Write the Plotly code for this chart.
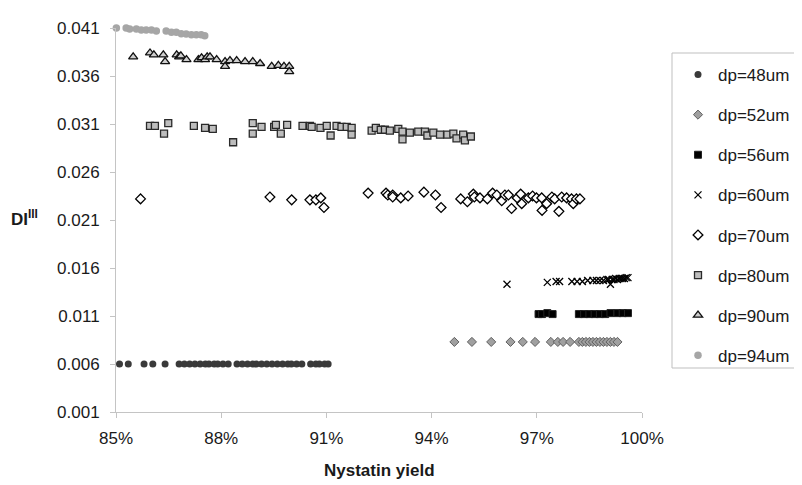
import plotly.graph_objects as go

# ---------------- data ----------------
dp48_x = [85.1, 85.35, 85.8, 86.05, 86.4, 86.8, 86.95, 87.1, 87.25, 87.4, 87.55, 87.65, 87.8, 87.9,
          88.05, 88.2, 88.45, 88.6, 88.75, 88.9, 89.0, 89.15, 89.3, 89.45, 89.6, 89.75, 89.9, 90.0,
          90.15, 90.3, 90.55, 90.7, 90.8, 90.95, 91.05]
dp48_y = [0.006, 0.006, 0.006, 0.006, 0.006, 0.006, 0.006, 0.006, 0.006, 0.006, 0.006, 0.006, 0.006, 0.006,
          0.006, 0.006, 0.006, 0.006, 0.006, 0.006, 0.006, 0.006, 0.006, 0.006, 0.006, 0.006, 0.006, 0.006,
          0.006, 0.006, 0.006, 0.006, 0.006, 0.006, 0.006]

dp52_x = [94.65, 95.15, 95.7, 96.25, 96.6, 96.95, 97.4, 97.6, 97.75, 97.95, 98.2, 98.3, 98.4, 98.5,
          98.6, 98.7, 98.8, 98.9, 99.0, 99.1, 99.2, 99.3]
dp52_y = [0.0083, 0.0083, 0.0083, 0.0083, 0.0083, 0.0083, 0.0083, 0.0083, 0.0083, 0.0083, 0.0083, 0.0083,
          0.0083, 0.0083, 0.0083, 0.0083, 0.0083, 0.0083, 0.0083, 0.0083, 0.0083, 0.0083]

dp56_x = [97.05, 97.15, 97.3, 97.45, 98.2, 98.35, 98.5, 98.65, 98.8, 98.95, 99.1, 99.3, 99.45, 99.6]
dp56_y = [0.0112, 0.0112, 0.0113, 0.0112, 0.0112, 0.0112, 0.0112, 0.0112, 0.0112, 0.0112, 0.0113,
          0.0113, 0.0113, 0.0113]

dp60_x = [96.15, 97.3, 97.55, 97.65, 98.0, 98.15, 98.3, 98.45, 98.6, 98.7, 98.8, 98.9, 99.0, 99.05,
          99.1, 99.15, 99.2, 99.25, 99.3, 99.35, 99.4, 99.45, 99.5, 99.55, 99.6]
dp60_y = [0.0143, 0.0145, 0.0146, 0.0146, 0.0146, 0.0146, 0.0146, 0.0147, 0.0147, 0.0147, 0.0147,
          0.0147, 0.0148, 0.0148, 0.0143, 0.0148, 0.0148, 0.0149, 0.0148, 0.0149, 0.0149, 0.0149,
          0.0149, 0.0150, 0.0150]

dp70_x = [85.7, 89.39, 90.01, 90.53, 90.7, 90.84, 90.93,
          92.19, 92.7, 92.75, 92.89, 92.89, 93.12, 93.33, 93.78, 94.11, 94.27, 94.83, 95.02, 95.19,
          95.22, 95.38, 95.59, 95.74, 95.86, 96.0, 96.09, 96.19, 96.28, 96.44, 96.54, 96.57, 96.76,
          96.88, 96.99, 97.14, 97.15, 97.28, 97.43, 97.51, 97.63, 97.71, 97.85, 97.99, 98.04, 98.13,
          98.23]
dp70_y = [0.0232, 0.0234, 0.0231, 0.0231, 0.0231, 0.0233, 0.0223,
          0.0238, 0.0238, 0.0236, 0.0236, 0.0234, 0.0233, 0.0235, 0.0239, 0.0236, 0.0223, 0.0232,
          0.0229, 0.0237, 0.0234, 0.0233, 0.0232, 0.0238, 0.0236, 0.0230, 0.0236, 0.0236, 0.0222,
          0.0233, 0.0237, 0.0227, 0.0233, 0.0235, 0.0233, 0.0233, 0.0220, 0.0227, 0.0234, 0.0232,
          0.0219, 0.0234, 0.0233, 0.0232, 0.0227, 0.0232, 0.0232]

dp80_x = [85.97, 86.11, 86.37, 86.49, 87.22, 87.54, 87.76, 88.34, 88.9, 88.9, 89.15, 89.51, 89.56,
          89.7, 89.88, 90.32, 90.53, 90.58, 90.83, 91.01, 91.12, 91.29, 91.43, 91.58, 91.72, 91.72,
          92.29, 92.41, 92.55, 92.67, 92.81, 93.05, 93.17, 93.17, 93.38, 93.62, 93.81, 93.88, 94.05,
          94.24, 94.45, 94.62, 94.71, 94.9, 94.95, 95.12]
dp80_y = [0.0308, 0.0308, 0.0300, 0.0311, 0.0308, 0.0306, 0.0305, 0.0291, 0.0311, 0.0300, 0.0307,
          0.0307, 0.0309, 0.0300, 0.0309, 0.0308, 0.0308, 0.0307, 0.0306, 0.0308, 0.0298, 0.0308,
          0.0307, 0.0307, 0.0306, 0.0299, 0.0303, 0.0306, 0.0304, 0.0304, 0.0303, 0.0305, 0.0302,
          0.0294, 0.0301, 0.0302, 0.0302, 0.0298, 0.0301, 0.0299, 0.0299, 0.0300, 0.0295, 0.0299,
          0.0293, 0.0297]

dp90_x = [85.49, 85.97, 86.08, 86.35, 86.4, 86.73, 86.8, 86.85, 87.01, 87.35, 87.44, 87.54, 87.6,
          87.68, 87.87, 88.11, 88.11, 88.25, 88.44, 88.68, 88.9, 89.11, 89.44, 89.63, 89.79, 89.94,
          89.94]
dp90_y = [0.0380, 0.0384, 0.0382, 0.0382, 0.0375, 0.0382, 0.0380, 0.0381, 0.0377, 0.0377, 0.0379,
          0.0377, 0.0380, 0.0380, 0.0377, 0.0375, 0.0370, 0.0376, 0.0376, 0.0375, 0.0375, 0.0373,
          0.0370, 0.0371, 0.0370, 0.0370, 0.03645]

dp94_x = [85.01, 85.15, 85.29, 85.39, 85.58, 85.72, 85.86, 86.01, 86.15, 86.43, 86.58, 86.72,
          86.86, 87.0, 87.15, 87.29, 87.43, 87.53]
dp94_y = [0.0410, 0.0411, 0.0410, 0.0409, 0.0409, 0.0408, 0.0408, 0.0408, 0.0407, 0.0407, 0.04055,
          0.04055, 0.0404, 0.04037, 0.0403, 0.0403, 0.0403, 0.0402]

x_ticks = [85, 88, 91, 94, 97, 100]
x_tick_labels = ["85%", "88%", "91%", "94%", "97%", "100%"]
y_ticks = [0.001, 0.006, 0.011, 0.016, 0.021, 0.026, 0.031, 0.036, 0.041]
y_tick_labels = ["0.001", "0.006", "0.011", "0.016", "0.021", "0.026", "0.031", "0.036", "0.041"]

# ---------------- figure ----------------
FONT = "Liberation Sans, Arial, sans-serif"
TXT = "#1a1a1a"
AX = "#c4c4c4"

series = [
    ("dp=48um", dp48_x, dp48_y, dict(symbol="circle", size=7, color="#3a3a3a", line=dict(width=0))),
    ("dp=52um", dp52_x, dp52_y, dict(symbol="diamond", size=7, color="#a0a0a0", line=dict(width=1, color="#606060"))),
    ("dp=56um", dp56_x, dp56_y, dict(symbol="square", size=7, color="#000000", line=dict(width=1, color="#222222"))),
    ("dp=60um", dp60_x, dp60_y, dict(symbol="x-thin", size=7, color="#000000", line=dict(width=1.3, color="#000000"))),
    ("dp=70um", dp70_x, dp70_y, dict(symbol="diamond", size=7.5, color="#ffffff", line=dict(width=1.3, color="#000000"))),
    ("dp=80um", dp80_x, dp80_y, dict(symbol="square", size=7, color="#bdbdbd", line=dict(width=1.3, color="#2a2a2a"))),
    ("dp=90um", dp90_x, dp90_y, dict(symbol="triangle-up", size=8, color="#cfcfcf", line=dict(width=1.3, color="#111111"))),
    ("dp=94um", dp94_x, dp94_y, dict(symbol="circle", size=7.5, color="#a6a6a6", line=dict(width=0))),
]

fig = go.Figure()
for i, (name, xs, ys, mk) in enumerate(series):
    fig.add_trace(go.Scatter(x=xs, y=ys, mode="markers", name=name, marker=mk,
                             cliponaxis=False, legendgroup=f"g{i}"))

# the page body has an 8px margin: work in page pixels, then offset
OFF = 8
W, H = 802 - OFF, 485 - OFF
L, R, T, B = 116 - OFF, 642 - OFF, 28 - OFF, 412 - OFF
PW, PH = R - L, B - T


def px(x):
    return (x - OFF - L) / PW


def py(y):
    return (B - (y - OFF)) / PH


fig.update_layout(
    width=W, height=H,
    margin=dict(l=L, r=W - R, t=T, b=H - B, pad=0, autoexpand=False),
    paper_bgcolor="white", plot_bgcolor="white",
    font=dict(family=FONT, size=17, color=TXT),
    showlegend=True,
    legend=dict(
        x=px(678), y=py(57), xanchor="left", yanchor="top",
        borderwidth=0, bgcolor="rgba(0,0,0,0)",
        font=dict(family=FONT, size=17, color=TXT),
        traceorder="grouped", tracegroupgap=15, itemwidth=30,
    ),
    xaxis=dict(
        range=[85, 100], tickvals=x_ticks, ticktext=x_tick_labels,
        showgrid=False, zeroline=False, showline=True, linecolor=AX, linewidth=1,
        ticks="outside", ticklen=5, tickcolor=AX, tickfont=dict(size=17, color=TXT),
        ticklabelstandoff=6,
    ),
    yaxis=dict(
        range=[0.001, 0.041], tickvals=y_ticks, ticktext=y_tick_labels,
        showgrid=False, zeroline=False, showline=True, linecolor=AX, linewidth=1,
        ticks="outside", ticklen=5, tickcolor=AX, tickfont=dict(size=17, color=TXT),
        ticklabelstandoff=7,
    ),
    shapes=[
        dict(type="rect", xref="paper", yref="paper",
             x0=px(672), x1=px(796), y0=py(368), y1=py(53),
             line=dict(color="#bfbfbf", width=1), fillcolor="rgba(0,0,0,0)", layer="below"),
    ],
    annotations=[
        dict(text="<b>Nystatin yield</b>", xref="paper", yref="paper",
             x=0.5, y=py(470), xanchor="center", yanchor="middle",
             showarrow=False, font=dict(family=FONT, size=17, color=TXT)),
        dict(text="<b>DI<sup>III</sup></b>", xref="paper", yref="paper",
             x=px(24), y=py(218), xanchor="center", yanchor="middle",
             showarrow=False, font=dict(family=FONT, size=17, color=TXT)),
    ],
)

fig.write_html("out.html")
